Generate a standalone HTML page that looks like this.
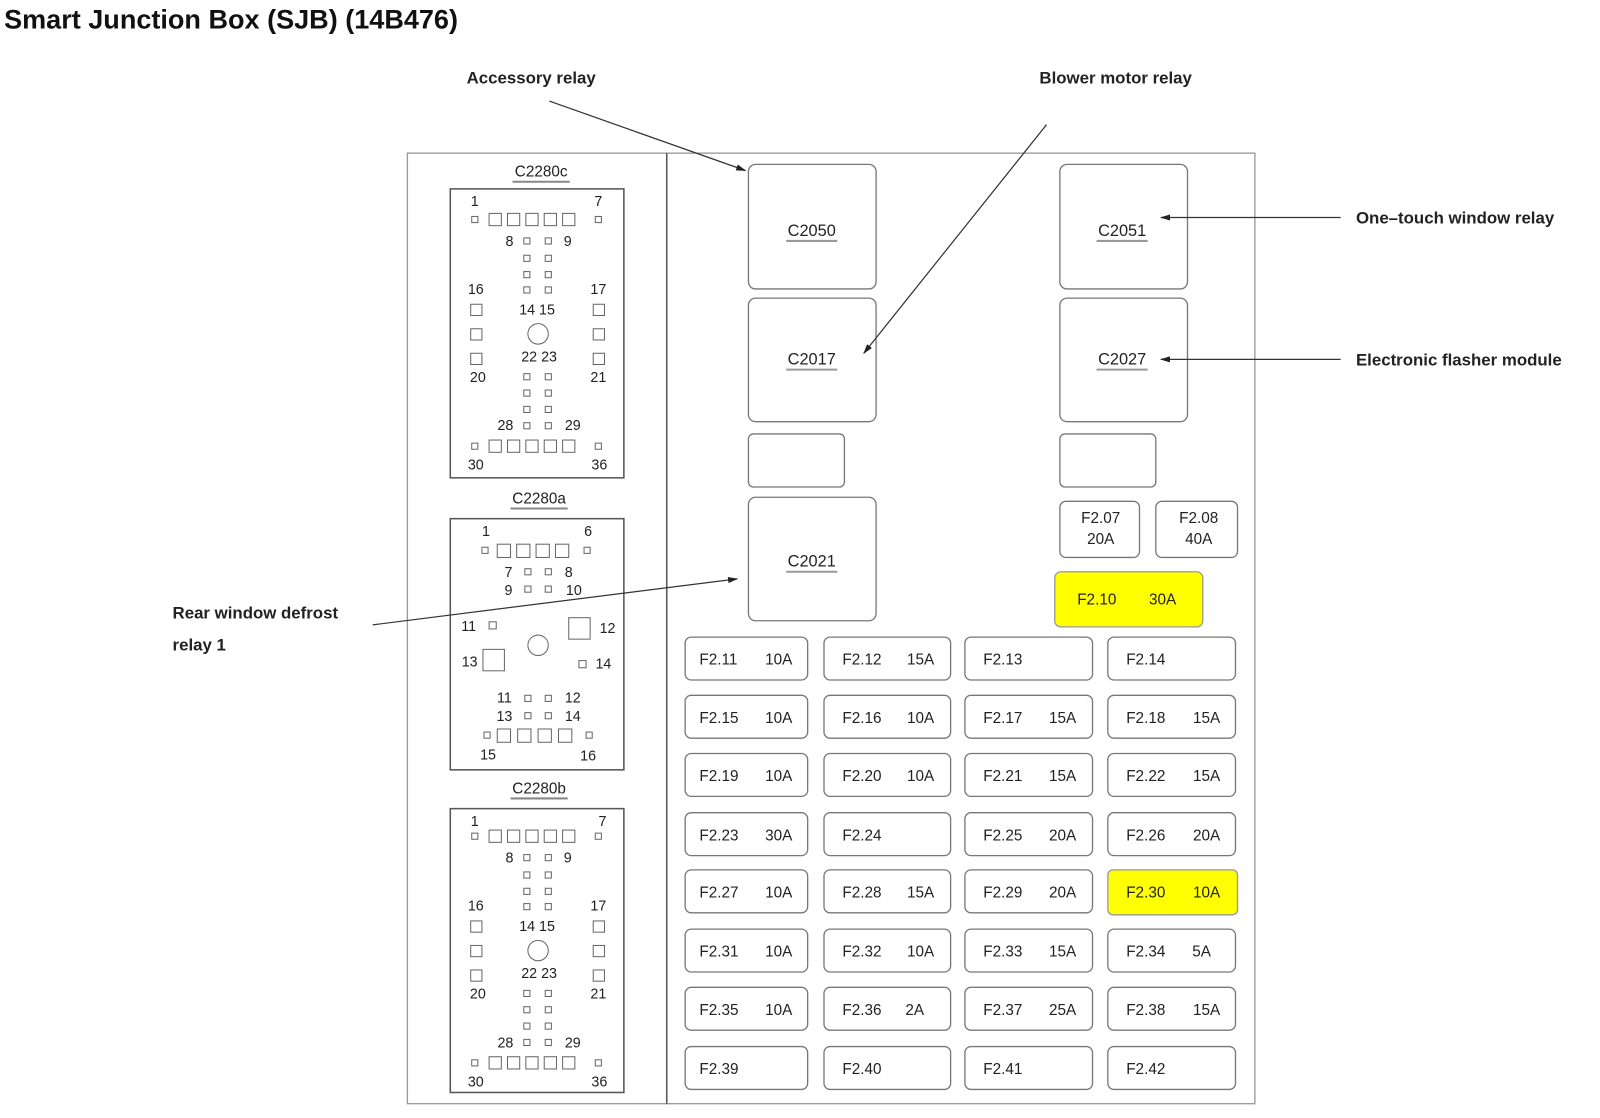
<!DOCTYPE html>
<html><head><meta charset="utf-8"><style>
html,body{margin:0;padding:0;background:#fff;width:1600px;height:1118px;overflow:hidden}
svg{display:block}
text{font-family:"Liberation Sans",Arial,sans-serif;fill:#222}
.n{font-size:14px;text-anchor:middle}
.f{font-size:15px}
.b{font-weight:bold;font-size:16.5px}
.r{fill:#fff;stroke:#777;stroke-width:1.3}
.p{fill:#fff;stroke:#666;stroke-width:1}
</style></head><body>
<svg width="1600" height="1118" viewBox="0 0 1567 1095" preserveAspectRatio="none" xmlns="http://www.w3.org/2000/svg">
<defs><marker id="a" markerWidth="10" markerHeight="8" refX="9" refY="4" orient="auto" markerUnits="userSpaceOnUse"><path d="M0,1 L10,4 L0,7 z" fill="#222"/></marker></defs>
<text x="4" y="28" style="font-size:26.5px;font-weight:bold;fill:#111">Smart Junction Box (SJB) (14B476)</text>

<rect x="399" y="150" width="254" height="931" fill="none" stroke="#999" stroke-width="1.3"/>
<rect x="653" y="150" width="576" height="931" fill="none" stroke="#999" stroke-width="1.3"/>
<line x1="653" y1="150" x2="653" y2="1081" stroke="#555" stroke-width="1.5"/>

<rect class="r" x="733" y="161" width="125" height="122" rx="7"/>
<text class="f" x="795" y="231" text-anchor="middle" style="font-size:16px">C2050</text><line x1="770" y1="236" x2="820" y2="236" stroke="#999" stroke-width="2"/>
<rect class="r" x="733" y="292" width="125" height="121" rx="7"/>
<text class="f" x="795" y="357" text-anchor="middle" style="font-size:16px">C2017</text><line x1="770" y1="362" x2="820" y2="362" stroke="#999" stroke-width="2"/>
<rect class="r" x="733" y="425" width="94" height="52" rx="5"/>
<rect class="r" x="733" y="487" width="125" height="121" rx="7"/>
<text class="f" x="795" y="555" text-anchor="middle" style="font-size:16px">C2021</text><line x1="770" y1="560" x2="820" y2="560" stroke="#999" stroke-width="2"/>

<rect class="r" x="1038" y="161" width="125" height="122" rx="7"/>
<text class="f" x="1099" y="231" text-anchor="middle" style="font-size:16px">C2051</text><line x1="1074" y1="236" x2="1124" y2="236" stroke="#999" stroke-width="2"/>
<rect class="r" x="1038" y="292" width="125" height="121" rx="7"/>
<text class="f" x="1099" y="357" text-anchor="middle" style="font-size:16px">C2027</text><line x1="1074" y1="362" x2="1124" y2="362" stroke="#999" stroke-width="2"/>
<rect class="r" x="1038" y="425" width="94" height="52" rx="5"/>

<rect class="r" x="1038" y="491" width="78" height="55" rx="6"/>
<text class="f" x="1078" y="512" text-anchor="middle">F2.07</text><text class="f" x="1078" y="533" text-anchor="middle">20A</text>
<rect class="r" x="1132" y="491" width="80" height="55" rx="6"/>
<text class="f" x="1174" y="512" text-anchor="middle">F2.08</text><text class="f" x="1174" y="533" text-anchor="middle">40A</text>
<rect x="1033" y="560" width="145" height="54" rx="6" fill="#ffff00" stroke="#999" stroke-width="1.3"/>
<text class="f" x="1055" y="592">F2.10</text><text class="f" x="1152" y="592" text-anchor="end">30A</text>

<g>
<rect class="r" x="671" y="624" width="120" height="42" rx="6"/><text class="f" x="685" y="651">F2.11</text><text class="f" x="776" y="651" text-anchor="end">10A</text>
<rect class="r" x="807" y="624" width="124" height="42" rx="6"/><text class="f" x="825" y="651">F2.12</text><text class="f" x="915" y="651" text-anchor="end">15A</text>
<rect class="r" x="945" y="624" width="125" height="42" rx="6"/><text class="f" x="963" y="651">F2.13</text>
<rect class="r" x="1085" y="624" width="125" height="42" rx="6"/><text class="f" x="1103" y="651">F2.14</text>

<rect class="r" x="671" y="681" width="120" height="42" rx="6"/><text class="f" x="685" y="708">F2.15</text><text class="f" x="776" y="708" text-anchor="end">10A</text>
<rect class="r" x="807" y="681" width="124" height="42" rx="6"/><text class="f" x="825" y="708">F2.16</text><text class="f" x="915" y="708" text-anchor="end">10A</text>
<rect class="r" x="945" y="681" width="125" height="42" rx="6"/><text class="f" x="963" y="708">F2.17</text><text class="f" x="1054" y="708" text-anchor="end">15A</text>
<rect class="r" x="1085" y="681" width="125" height="42" rx="6"/><text class="f" x="1103" y="708">F2.18</text><text class="f" x="1195" y="708" text-anchor="end">15A</text>

<rect class="r" x="671" y="738" width="120" height="42" rx="6"/><text class="f" x="685" y="765">F2.19</text><text class="f" x="776" y="765" text-anchor="end">10A</text>
<rect class="r" x="807" y="738" width="124" height="42" rx="6"/><text class="f" x="825" y="765">F2.20</text><text class="f" x="915" y="765" text-anchor="end">10A</text>
<rect class="r" x="945" y="738" width="125" height="42" rx="6"/><text class="f" x="963" y="765">F2.21</text><text class="f" x="1054" y="765" text-anchor="end">15A</text>
<rect class="r" x="1085" y="738" width="125" height="42" rx="6"/><text class="f" x="1103" y="765">F2.22</text><text class="f" x="1195" y="765" text-anchor="end">15A</text>

<rect class="r" x="671" y="796" width="120" height="42" rx="6"/><text class="f" x="685" y="823">F2.23</text><text class="f" x="776" y="823" text-anchor="end">30A</text>
<rect class="r" x="807" y="796" width="124" height="42" rx="6"/><text class="f" x="825" y="823">F2.24</text>
<rect class="r" x="945" y="796" width="125" height="42" rx="6"/><text class="f" x="963" y="823">F2.25</text><text class="f" x="1054" y="823" text-anchor="end">20A</text>
<rect class="r" x="1085" y="796" width="125" height="42" rx="6"/><text class="f" x="1103" y="823">F2.26</text><text class="f" x="1195" y="823" text-anchor="end">20A</text>

<rect class="r" x="671" y="852" width="120" height="42" rx="6"/><text class="f" x="685" y="879">F2.27</text><text class="f" x="776" y="879" text-anchor="end">10A</text>
<rect class="r" x="807" y="852" width="124" height="42" rx="6"/><text class="f" x="825" y="879">F2.28</text><text class="f" x="915" y="879" text-anchor="end">15A</text>
<rect class="r" x="945" y="852" width="125" height="42" rx="6"/><text class="f" x="963" y="879">F2.29</text><text class="f" x="1054" y="879" text-anchor="end">20A</text>
<rect x="1085" y="852" width="127" height="44" rx="5" fill="#ffff00" stroke="#999" stroke-width="1.3"/><text class="f" x="1103" y="879">F2.30</text><text class="f" x="1195" y="879" text-anchor="end">10A</text>

<rect class="r" x="671" y="910" width="120" height="42" rx="6"/><text class="f" x="685" y="937">F2.31</text><text class="f" x="776" y="937" text-anchor="end">10A</text>
<rect class="r" x="807" y="910" width="124" height="42" rx="6"/><text class="f" x="825" y="937">F2.32</text><text class="f" x="915" y="937" text-anchor="end">10A</text>
<rect class="r" x="945" y="910" width="125" height="42" rx="6"/><text class="f" x="963" y="937">F2.33</text><text class="f" x="1054" y="937" text-anchor="end">15A</text>
<rect class="r" x="1085" y="910" width="125" height="42" rx="6"/><text class="f" x="1103" y="937">F2.34</text><text class="f" x="1186" y="937" text-anchor="end">5A</text>

<rect class="r" x="671" y="967" width="120" height="42" rx="6"/><text class="f" x="685" y="994">F2.35</text><text class="f" x="776" y="994" text-anchor="end">10A</text>
<rect class="r" x="807" y="967" width="124" height="42" rx="6"/><text class="f" x="825" y="994">F2.36</text><text class="f" x="905" y="994" text-anchor="end">2A</text>
<rect class="r" x="945" y="967" width="125" height="42" rx="6"/><text class="f" x="963" y="994">F2.37</text><text class="f" x="1054" y="994" text-anchor="end">25A</text>
<rect class="r" x="1085" y="967" width="125" height="42" rx="6"/><text class="f" x="1103" y="994">F2.38</text><text class="f" x="1195" y="994" text-anchor="end">15A</text>

<rect class="r" x="671" y="1025" width="120" height="42" rx="6"/><text class="f" x="685" y="1052">F2.39</text>
<rect class="r" x="807" y="1025" width="124" height="42" rx="6"/><text class="f" x="825" y="1052">F2.40</text>
<rect class="r" x="945" y="1025" width="125" height="42" rx="6"/><text class="f" x="963" y="1052">F2.41</text>
<rect class="r" x="1085" y="1025" width="125" height="42" rx="6"/><text class="f" x="1103" y="1052">F2.42</text>
</g>

<text class="n" x="530" y="173" style="font-size:15px">C2280c</text><line x1="502" y1="178" x2="558" y2="178" stroke="#888" stroke-width="2"/>
<g transform="translate(441,185)">
<rect x="0" y="0" width="170" height="283" fill="none" stroke="#555" stroke-width="1.5"/>
<text class="n" x="24" y="17">1</text><text class="n" x="145" y="17">7</text>
<rect class="p" x="21" y="27" width="6" height="6"/><rect class="p" x="142" y="27" width="6" height="6"/>
<rect class="p" x="38" y="24" width="12" height="12"/><rect class="p" x="56" y="24" width="12" height="12"/><rect class="p" x="74" y="24" width="12" height="12"/><rect class="p" x="92" y="24" width="12" height="12"/><rect class="p" x="110" y="24" width="12" height="12"/>
<text class="n" x="58" y="56">8</text><text class="n" x="115" y="56">9</text>
<rect class="p" x="72" y="48" width="6" height="6"/><rect class="p" x="93" y="48" width="6" height="6"/>
<rect class="p" x="72" y="65" width="6" height="6"/><rect class="p" x="93" y="65" width="6" height="6"/>
<rect class="p" x="72" y="81" width="6" height="6"/><rect class="p" x="93" y="81" width="6" height="6"/>
<rect class="p" x="72" y="96" width="6" height="6"/><rect class="p" x="93" y="96" width="6" height="6"/>
<text class="n" x="25" y="103">16</text><text class="n" x="145" y="103">17</text>
<text class="n" x="85" y="123">14 15</text>
<rect class="p" x="20" y="113" width="11" height="11"/><rect class="p" x="140" y="113" width="11" height="11"/>
<rect class="p" x="20" y="137" width="11" height="11"/><rect class="p" x="140" y="137" width="11" height="11"/>
<rect class="p" x="20" y="161" width="11" height="11"/><rect class="p" x="140" y="161" width="11" height="11"/>
<circle cx="86" cy="142" r="10" class="p"/>
<text class="n" x="87" y="169">22 23</text>
<text class="n" x="27" y="189">20</text><text class="n" x="145" y="189">21</text>
<rect class="p" x="72" y="181" width="6" height="6"/><rect class="p" x="93" y="181" width="6" height="6"/>
<rect class="p" x="72" y="197" width="6" height="6"/><rect class="p" x="93" y="197" width="6" height="6"/>
<rect class="p" x="72" y="213" width="6" height="6"/><rect class="p" x="93" y="213" width="6" height="6"/>
<rect class="p" x="72" y="229" width="6" height="6"/><rect class="p" x="93" y="229" width="6" height="6"/>
<text class="n" x="54" y="236">28</text><text class="n" x="120" y="236">29</text>
<rect class="p" x="21" y="249" width="6" height="6"/><rect class="p" x="142" y="249" width="6" height="6"/>
<rect class="p" x="38" y="246" width="12" height="12"/><rect class="p" x="56" y="246" width="12" height="12"/><rect class="p" x="74" y="246" width="12" height="12"/><rect class="p" x="92" y="246" width="12" height="12"/><rect class="p" x="110" y="246" width="12" height="12"/>
<text class="n" x="25" y="275">30</text><text class="n" x="146" y="275">36</text>
</g>

<text class="n" x="528" y="493" style="font-size:15px">C2280a</text><line x1="500" y1="498" x2="556" y2="498" stroke="#888" stroke-width="2"/>
<g transform="translate(441,508)">
<rect x="0" y="0" width="170" height="246" fill="none" stroke="#555" stroke-width="1.5"/>
<text class="n" x="35" y="17">1</text><text class="n" x="135" y="17">6</text>
<rect class="p" x="31" y="28" width="6" height="6"/><rect class="p" x="131" y="28" width="6" height="6"/>
<rect class="p" x="46" y="25" width="13" height="13"/><rect class="p" x="65" y="25" width="13" height="13"/><rect class="p" x="84" y="25" width="13" height="13"/><rect class="p" x="103" y="25" width="13" height="13"/>
<text class="n" x="57" y="57">7</text><text class="n" x="116" y="57">8</text>
<rect class="p" x="73" y="49" width="6" height="6"/><rect class="p" x="93" y="49" width="6" height="6"/>
<text class="n" x="57" y="75">9</text><text class="n" x="121" y="75">10</text>
<rect class="p" x="73" y="66" width="6" height="6"/><rect class="p" x="93" y="66" width="6" height="6"/>
<text class="n" x="18" y="110">11</text><rect class="p" x="38" y="101" width="7" height="7"/>
<rect class="p" x="116" y="97" width="21" height="21"/><text class="n" x="154" y="112">12</text>
<circle cx="86" cy="124" r="10" class="p"/>
<text class="n" x="19" y="145">13</text><rect class="p" x="32" y="128" width="21" height="21"/>
<rect class="p" x="126" y="139" width="7" height="7"/><text class="n" x="150" y="147">14</text>
<text class="n" x="53" y="180">11</text><text class="n" x="120" y="180">12</text>
<rect class="p" x="73" y="173" width="6" height="6"/><rect class="p" x="93" y="173" width="6" height="6"/>
<text class="n" x="53" y="198">13</text><text class="n" x="120" y="198">14</text>
<rect class="p" x="73" y="190" width="6" height="6"/><rect class="p" x="93" y="190" width="6" height="6"/>
<rect class="p" x="33" y="209" width="6" height="6"/><rect class="p" x="133" y="209" width="6" height="6"/>
<rect class="p" x="46" y="206" width="13" height="13"/><rect class="p" x="66" y="206" width="13" height="13"/><rect class="p" x="86" y="206" width="13" height="13"/><rect class="p" x="106" y="206" width="13" height="13"/>
<text class="n" x="37" y="236">15</text><text class="n" x="135" y="237">16</text>
</g>

<text class="n" x="528" y="777" style="font-size:15px">C2280b</text><line x1="500" y1="782" x2="556" y2="782" stroke="#888" stroke-width="2"/>
<g transform="translate(441,792)">
<rect x="0" y="0" width="170" height="278" fill="none" stroke="#555" stroke-width="1.5"/>
<text class="n" x="24" y="17">1</text><text class="n" x="149" y="17">7</text>
<rect class="p" x="21" y="24" width="6" height="6"/><rect class="p" x="142" y="24" width="6" height="6"/>
<rect class="p" x="38" y="21" width="12" height="12"/><rect class="p" x="56" y="21" width="12" height="12"/><rect class="p" x="74" y="21" width="12" height="12"/><rect class="p" x="92" y="21" width="12" height="12"/><rect class="p" x="110" y="21" width="12" height="12"/>
<text class="n" x="58" y="53">8</text><text class="n" x="115" y="53">9</text>
<rect class="p" x="72" y="45" width="6" height="6"/><rect class="p" x="93" y="45" width="6" height="6"/>
<rect class="p" x="72" y="62" width="6" height="6"/><rect class="p" x="93" y="62" width="6" height="6"/>
<rect class="p" x="72" y="78" width="6" height="6"/><rect class="p" x="93" y="78" width="6" height="6"/>
<rect class="p" x="72" y="93" width="6" height="6"/><rect class="p" x="93" y="93" width="6" height="6"/>
<text class="n" x="25" y="100">16</text><text class="n" x="145" y="100">17</text>
<text class="n" x="85" y="120">14 15</text>
<rect class="p" x="20" y="110" width="11" height="11"/><rect class="p" x="140" y="110" width="11" height="11"/>
<rect class="p" x="20" y="134" width="11" height="11"/><rect class="p" x="140" y="134" width="11" height="11"/>
<rect class="p" x="20" y="158" width="11" height="11"/><rect class="p" x="140" y="158" width="11" height="11"/>
<circle cx="86" cy="139" r="10" class="p"/>
<text class="n" x="87" y="166">22 23</text>
<text class="n" x="27" y="186">20</text><text class="n" x="145" y="186">21</text>
<rect class="p" x="72" y="178" width="6" height="6"/><rect class="p" x="93" y="178" width="6" height="6"/>
<rect class="p" x="72" y="194" width="6" height="6"/><rect class="p" x="93" y="194" width="6" height="6"/>
<rect class="p" x="72" y="210" width="6" height="6"/><rect class="p" x="93" y="210" width="6" height="6"/>
<rect class="p" x="72" y="226" width="6" height="6"/><rect class="p" x="93" y="226" width="6" height="6"/>
<text class="n" x="54" y="234">28</text><text class="n" x="120" y="234">29</text>
<rect class="p" x="21" y="246" width="6" height="6"/><rect class="p" x="142" y="246" width="6" height="6"/>
<rect class="p" x="38" y="243" width="12" height="12"/><rect class="p" x="56" y="243" width="12" height="12"/><rect class="p" x="74" y="243" width="12" height="12"/><rect class="p" x="92" y="243" width="12" height="12"/><rect class="p" x="110" y="243" width="12" height="12"/>
<text class="n" x="25" y="272">30</text><text class="n" x="146" y="272">36</text>
</g>

<text class="b" x="457" y="82">Accessory relay</text>
<line x1="538" y1="99" x2="730" y2="167" stroke="#333" stroke-width="1.2" marker-end="url(#a)"/>
<text class="b" x="1018" y="82">Blower motor relay</text>
<line x1="1025" y1="122" x2="846" y2="346" stroke="#333" stroke-width="1.2" marker-end="url(#a)"/>
<text class="b" x="1328" y="219">One–touch window relay</text>
<line x1="1313" y1="213" x2="1137" y2="213" stroke="#333" stroke-width="1.2" marker-end="url(#a)"/>
<text class="b" x="1328" y="358">Electronic flasher module</text>
<line x1="1313" y1="352" x2="1137" y2="352" stroke="#333" stroke-width="1.2" marker-end="url(#a)"/>
<text class="b" x="169" y="606">Rear window defrost</text>
<text class="b" x="169" y="637">relay 1</text>
<line x1="365" y1="612" x2="722" y2="567" stroke="#333" stroke-width="1.2" marker-end="url(#a)"/>
</svg>
</body></html>
